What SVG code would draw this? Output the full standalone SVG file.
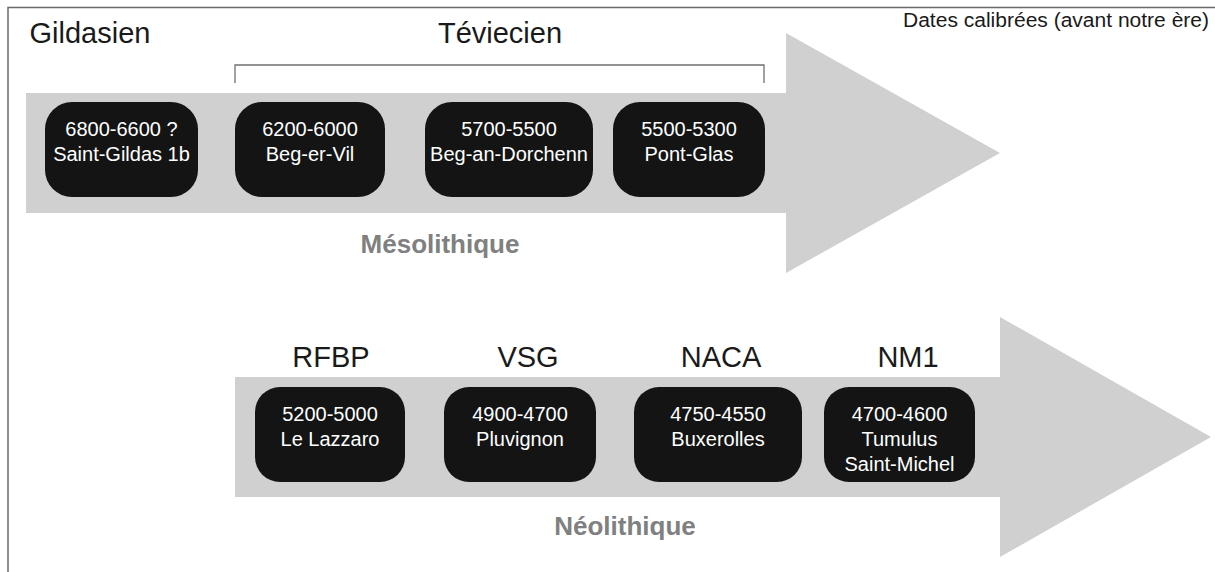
<svg xmlns="http://www.w3.org/2000/svg" width="1215" height="572" viewBox="0 0 1215 572">
<style>
.frame{stroke:#6a6a6a;stroke-width:1.5;fill:none}
.band{fill:#d0d0d0}
.box{fill:#141414}
.bt{font-family:"Liberation Sans",Arial,sans-serif;font-size:20px;fill:#ffffff;text-anchor:middle}
.hd{font-family:"Liberation Sans",Arial,sans-serif;font-size:29px;fill:#1a1a1a;text-anchor:middle}
.era{font-family:"Liberation Sans",Arial,sans-serif;font-size:26px;font-weight:bold;fill:#808080;text-anchor:middle}
.note{font-family:"Liberation Sans",Arial,sans-serif;font-size:20px;fill:#1a1a1a;text-anchor:end}
.brk{stroke:#707070;stroke-width:1.3;fill:none}
</style>
<rect width="1215" height="572" fill="#ffffff"/>
<path class="frame" d="M8,572 V7.5 H1215"/>
<text class="note" x="1209" y="27" textLength="306" lengthAdjust="spacingAndGlyphs">Dates calibrées (avant notre ère)</text>
<g id="connectors">
<polygon id="arrow-meso" class="band" points="26,93 786,93 786,33 1000,153 786,273 786,213 26,213"/>
<polygon id="arrow-neo" class="band" points="235,377 1000,377 1000,317 1211,437 1000,557 1000,497 235,497"/>
<path id="bracket-teviecien" class="brk" d="M235,83 V65 H764 V83"/>
</g>
<g id="labels">
<text class="hd" x="90" y="43">Gildasien</text>
<text class="hd" x="500" y="43">Téviecien</text>
<text class="era" x="440" y="253">Mésolithique</text>
<text class="hd" x="331" y="367">RFBP</text>
<text class="hd" x="528" y="367">VSG</text>
<text class="hd" x="721" y="367">NACA</text>
<text class="hd" x="908" y="367">NM1</text>
<text class="era" x="625" y="535">Néolithique</text>
</g>
<g id="node-saint-gildas">
<rect class="box" x="45" y="102" width="153" height="95" rx="27"/>
<text class="bt" x="121.5" y="136">6800-6600 ?</text>
<text class="bt" x="121.5" y="161">Saint-Gildas 1b</text>
</g>
<g id="node-beg-er-vil">
<rect class="box" x="235" y="102" width="150" height="95" rx="27"/>
<text class="bt" x="310" y="136">6200-6000</text>
<text class="bt" x="310" y="161">Beg-er-Vil</text>
</g>
<g id="node-beg-an-dorchenn">
<rect class="box" x="425" y="102" width="168" height="95" rx="27"/>
<text class="bt" x="509" y="136">5700-5500</text>
<text class="bt" x="509" y="161">Beg-an-Dorchenn</text>
</g>
<g id="node-pont-glas">
<rect class="box" x="613" y="102" width="152" height="95" rx="27"/>
<text class="bt" x="689" y="136">5500-5300</text>
<text class="bt" x="689" y="161">Pont-Glas</text>
</g>
<g id="node-le-lazzaro">
<rect class="box" x="255" y="387" width="150" height="95" rx="25"/>
<text class="bt" x="330" y="421">5200-5000</text>
<text class="bt" x="330" y="446">Le Lazzaro</text>
</g>
<g id="node-pluvignon">
<rect class="box" x="444" y="387" width="152" height="95" rx="25"/>
<text class="bt" x="520" y="421">4900-4700</text>
<text class="bt" x="520" y="446">Pluvignon</text>
</g>
<g id="node-buxerolles">
<rect class="box" x="634" y="387" width="168" height="95" rx="25"/>
<text class="bt" x="718" y="421">4750-4550</text>
<text class="bt" x="718" y="446">Buxerolles</text>
</g>
<g id="node-tumulus">
<rect class="box" x="824" y="387" width="151" height="95" rx="25"/>
<text class="bt" x="899.5" y="421">4700-4600</text>
<text class="bt" x="899.5" y="446">Tumulus</text>
<text class="bt" x="899.5" y="471">Saint-Michel</text>
</g>
</svg>
